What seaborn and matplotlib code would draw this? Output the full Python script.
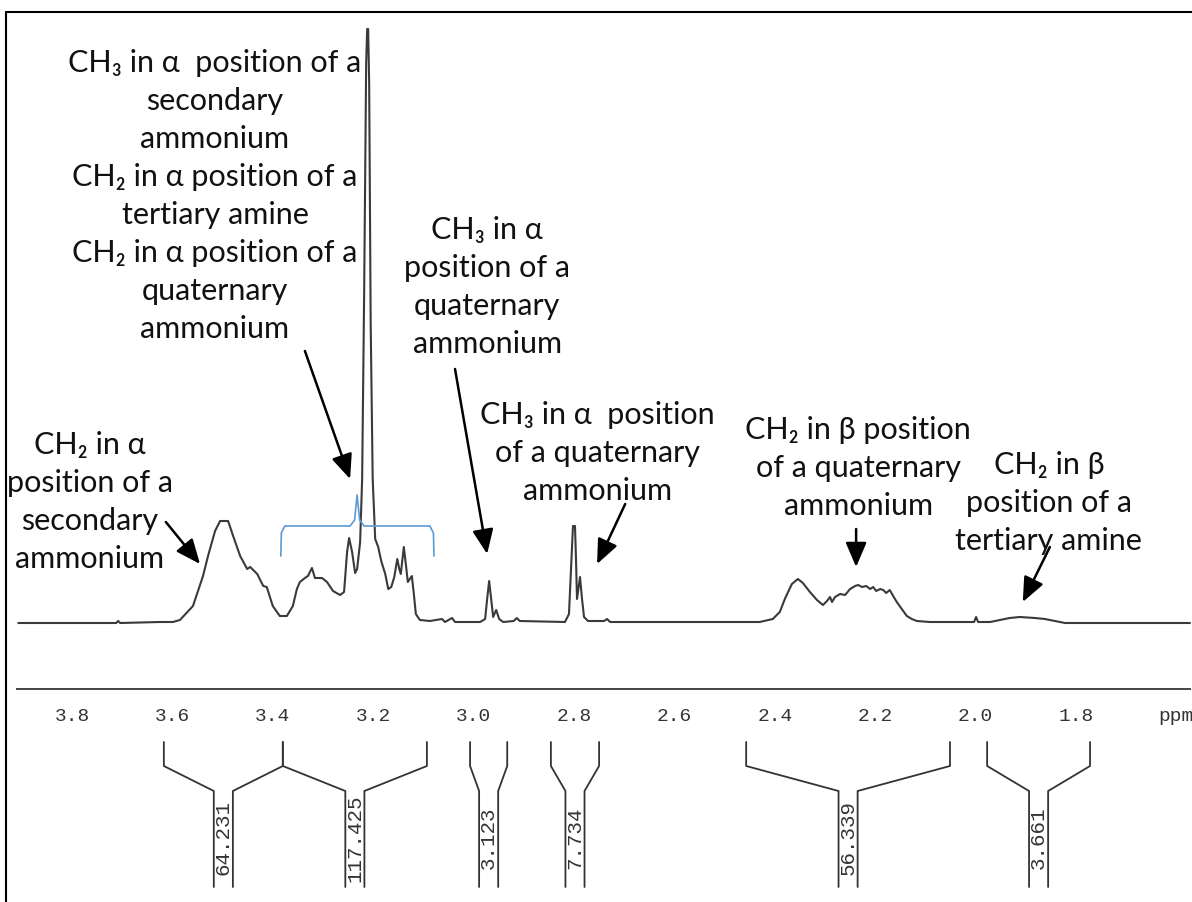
import matplotlib
matplotlib.use("Agg")
import matplotlib.pyplot as plt
from matplotlib.lines import Line2D
import seaborn as sns
import pandas as pd

# 1H NMR spectrum: chemical shift (ppm) and intensity (arb. units)
shift = [3.907, 3.744, 3.712, 3.708, 3.704, 3.625, 3.599, 3.585, 3.559, 3.539,
         3.529, 3.515, 3.505, 3.489, 3.479, 3.465, 3.451, 3.445, 3.431, 3.419,
         3.412, 3.400, 3.386, 3.372, 3.360, 3.352, 3.346, 3.336, 3.330, 3.322,
         3.316, 3.302, 3.292, 3.280, 3.266, 3.258, 3.252, 3.248, 3.242, 3.236,
         3.232, 3.226, 3.222, 3.218, 3.214, 3.212, 3.210, 3.208, 3.205, 3.201,
         3.196, 3.190, 3.184, 3.176, 3.170, 3.164, 3.158, 3.152, 3.148, 3.145,
         3.139, 3.135, 3.131, 3.127, 3.123, 3.119, 3.115, 3.107, 3.087, 3.063,
         3.057, 3.043, 3.037, 2.987, 2.977, 2.973, 2.969, 2.965, 2.961, 2.955,
         2.949, 2.941, 2.920, 2.914, 2.908, 2.818, 2.810, 2.806, 2.802, 2.798,
         2.796, 2.794, 2.790, 2.788, 2.784, 2.780, 2.772, 2.740, 2.734, 2.728,
         2.649, 2.430, 2.404, 2.390, 2.380, 2.366, 2.354, 2.344, 2.330, 2.316,
         2.304, 2.296, 2.290, 2.286, 2.280, 2.270, 2.260, 2.250, 2.240, 2.234,
         2.226, 2.218, 2.210, 2.204, 2.198, 2.190, 2.184, 2.178, 2.171, 2.163,
         2.157, 2.147, 2.137, 2.127, 2.117, 2.091, 2.003, 1.999, 1.995, 1.971,
         1.951, 1.932, 1.912, 1.882, 1.862, 1.842, 1.822, 1.573]
intensity = [0, 0, 0, 2, 0, 1, 1, 3, 17, 47,
             67, 92, 102, 102, 87, 67, 54, 56, 49, 37,
             36, 17, 7, 7, 17, 34, 41, 45, 47, 55,
             45, 45, 41, 32, 28, 31, 71, 85, 71, 50,
             54, 81, 144, 330, 560, 594, 594, 540, 300, 144,
             84, 76, 62, 49, 34, 36, 46, 64, 54, 49,
             76, 59, 41, 44, 47, 29, 9, 3, 2, 4,
             1, 5, 1, 1, 4, 24, 42, 24, 6, 13,
             4, 1, 2, 5, 2, 1, 9, 54, 97, 97,
             64, 24, 39, 46, 24, 6, 2, 2, 4, 1,
             1, 1, 4, 11, 24, 39, 44, 40, 31, 23,
             18, 22, 26, 21, 26, 29, 28, 34, 37, 38,
             36, 37, 34, 36, 32, 34, 33, 30, 33, 26,
             21, 14, 7, 4, 2, 1, 1, 6, 1, 1,
             3, 5, 6, 5, 4, 2, 0, 0]

# integral regions (ppm) and their values
int_start = [3.617, 3.380, 3.007, 2.846, 2.457, 1.977]
int_end = [3.380, 3.093, 2.933, 2.750, 2.051, 1.772]
int_value = ["64.231", "117.425", "3.123", "7.734", "56.339", "3.661"]

tick_values = [3.8, 3.6, 3.4, 3.2, 3.0, 2.8, 2.6, 2.4, 2.2, 2.0, 1.8, 1.6]
tick_labels = ["3.8", "3.6", "3.4", "3.2", "3.0", "2.8", "2.6", "2.4", "2.2", "2.0", "1.8", "ppm"]
minor_values = [3.9, 3.7, 3.5, 3.3, 3.1, 2.9, 2.7, 2.5, 2.3, 2.1, 1.9, 1.7]

# peak assignments
text_a = ["CH\u2083 in \u03b1  position of a", "secondary", "ammonium",
          "CH\u2082 in \u03b1 position of a", "tertiary amine",
          "CH\u2082 in \u03b1 position of a", "quaternary", "ammonium"]
text_b = ["CH\u2083 in \u03b1", "position of a", "quaternary", "ammonium"]
text_c = ["CH\u2083 in \u03b1  position", "of a quaternary", "ammonium"]
text_d = ["CH\u2082 in \u03b2 position", "of a quaternary", "ammonium"]
text_e = ["CH\u2082 in \u03b2", "position of a", "tertiary amine"]
text_f = ["CH\u2082 in \u03b1", "position of a", "secondary", "ammonium"]

sns.set_style("white")
plt.rcParams["font.family"] = ["Lato", "DejaVu Sans"]

df = pd.DataFrame({"shift": shift, "intensity": intensity})

fig = plt.figure(figsize=(11.92, 9.03), dpi=100)
ax = fig.add_axes([0, 0, 1, 1])
ax.set_facecolor("white")

sns.lineplot(data=df, x="shift", y="intensity", ax=ax, sort=False, estimator=None,
             color="#3a3a3a", linewidth=1.5)

ax.set_xlim(3.9434, 1.5689)
ax.set_ylim(-279, 624)
ax.set_xlabel("")
ax.set_ylabel("")
ax.set_yticks([])

# ppm scale
for s in ["top", "left", "right"]:
    ax.spines[s].set_visible(False)
ax.spines["bottom"].set_position(("data", -66))
ax.spines["bottom"].set_bounds(1.573, 3.909)
ax.spines["bottom"].set_color("#444444")
ax.spines["bottom"].set_linewidth(1.4)
ax.set_xticks(tick_values)
ax.set_xticklabels(tick_labels, family="Liberation Mono", fontsize=14, color="#333333")
ax.set_xticks(minor_values, minor=True)
ax.tick_params(axis="x", which="major", direction="out", length=8, width=1.2,
               color="#444444", pad=5)
ax.tick_params(axis="x", which="minor", direction="out", length=2.5, width=1.2,
               color="#444444")

# integral brackets
top, knee, low, bottom = -119, -143, -168, -264
for a, b, v in zip(int_start, int_end, int_value):
    mid = (a + b) / 2
    ax.plot([a, a, mid + 0.019, mid + 0.019], [top, knee, low, bottom],
            color="#333333", lw=1.3)
    ax.plot([b, b, mid - 0.019, mid - 0.019], [top, knee, low, bottom],
            color="#333333", lw=1.3)
    ax.text(mid, -214, v, rotation=90, ha="center", va="center",
            family="Liberation Mono", fontsize=15, color="#333333")

# blue brace over the 3.38-3.09 ppm group
brace_x = [3.384, 3.383, 3.376, 3.246, 3.237, 3.232, 3.227, 3.218, 3.087, 3.080, 3.079]
brace_y = [67, 90, 97, 97, 103, 128, 103, 97, 97, 90, 67]
ax.plot(brace_x, brace_y, color="#5b9bd5", lw=1.2)

# assignment labels and arrows: (lines, centre ppm, first line y, arrow start, arrow tip)
blocks = [
    (text_a, 3.515, 561, (3.336, 272), (3.246, 144)),
    (text_b, 2.973, 394, (3.037, 254), (2.973, 69)),
    (text_c, 2.754, 209, (2.698, 119), (2.754, 59)),
    (text_d, 2.234, 194, (2.238, 94), (2.238, 56)),
    (text_e, 1.854, 159, (1.852, 76), (1.906, 21)),
    (text_f, 3.764, 179, (3.613, 101), (3.545, 59)),
]
for lines, cx, y0, start, tip in blocks:
    for i, line in enumerate(lines):
        ax.text(cx, y0 - i * 38, line, ha="center", va="center",
                fontsize=22, color="#111111")
    ax.annotate("", xy=tip, xytext=start,
                arrowprops=dict(arrowstyle="-|>,head_length=0.75,head_width=0.32",
                                color="black", lw=1.8, shrinkA=0, shrinkB=0,
                                mutation_scale=20))

# frame of the original figure
fig.add_artist(Line2D([6 / 1192, 6 / 1192], [1 - 13 / 903, 0],
                      transform=fig.transFigure, color="black", lw=1.5))
fig.add_artist(Line2D([6 / 1192, 1], [1 - 13 / 903, 1 - 13 / 903],
                      transform=fig.transFigure, color="black", lw=1.5))

fig.savefig("out.png", dpi=100, facecolor="white")
